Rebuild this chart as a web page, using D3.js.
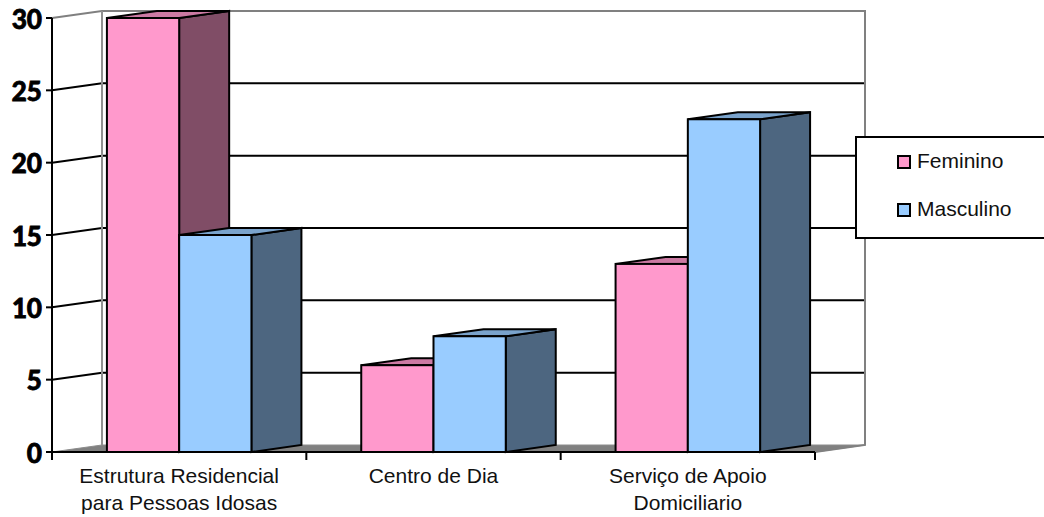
<!DOCTYPE html>
<html>
<head>
<meta charset="utf-8">
<script src="https://cdn.jsdelivr.net/npm/d3@7/dist/d3.min.js"></script>
<style>
  body { margin: 0; background: #fff; }
  svg { display: block; }
</style>
</head>
<body>
<div id="chart"></div>
<script>
// 3D clustered columns, Excel style: front plane + back wall offset by a fixed depth.
const categories = [
  ['Estrutura Residencial', 'para Pessoas Idosas'],
  ['Centro de Dia'],
  ['Serviço de Apoio', 'Domiciliario'],
];
const seriesNames = ['Feminino', 'Masculino'];
const feminino  = [30, 6, 13];
const masculino = [15, 8, 23];
const yTicks = [0, 5, 10, 15, 20, 25, 30];

const W = 1044, H = 517;
const DX = 50, DY = -7;           // depth offset of the back wall
const colors = {
  Feminino:  { front: '#FF99CC', side: '#804D66', top: '#CC7AA3' },
  Masculino: { front: '#99CCFF', side: '#4D6680', top: '#7AA3CC' },
};

const catKeys = categories.map((c) => c.join(' '));
const values = { Feminino: feminino, Masculino: masculino };

const x = d3.scaleBand().domain(catKeys).range([52, 815]).paddingInner(0).paddingOuter(0);
const xs = d3.scaleBand().domain(seriesNames).range([0, x.bandwidth()]).paddingInner(0).paddingOuter(0.76);
const y = d3.scaleLinear().domain([0, 30]).range([452, 18]);

const svg = d3.select('#chart').append('svg').attr('width', W).attr('height', H);

const x0 = x.range()[0], x1 = x.range()[1];
const yTop = y(30), yBase = y(0);
const pts = (a) => a.map((p) => p.join(',')).join(' ');

// floor
svg.append('polygon')
  .attr('points', pts([[x0, yBase], [x1, yBase], [x1 + DX, yBase + DY], [x0 + DX, yBase + DY]]))
  .attr('fill', '#808080').attr('stroke', '#8c8c8c').attr('stroke-width', 1);

// gridlines (left wall diagonal + back wall)
const grid = svg.append('g');
yTicks.filter((t) => t > 0 && t < 30).forEach((t) => {
  grid.append('polyline')
    .attr('points', pts([[x0, y(t)], [x0 + DX, y(t) + DY], [x1 + DX, y(t) + DY]]))
    .attr('fill', 'none').attr('stroke', '#000').attr('stroke-width', 2);
});

// walls outline (gray)
svg.append('polyline')
  .attr('points', pts([[x0, yTop], [x0 + DX, yTop + DY], [x1 + DX, yTop + DY], [x1 + DX, yBase + DY], [x1, yBase]]))
  .attr('fill', 'none').attr('stroke', '#808080').attr('stroke-width', 2);
svg.append('line')
  .attr('x1', x0 + DX).attr('x2', x0 + DX).attr('y1', yTop + DY).attr('y2', yBase + DY)
  .attr('stroke', '#909090').attr('stroke-width', 2);

// y axis
svg.append('line').attr('x1', x0).attr('x2', x0).attr('y1', yTop).attr('y2', yBase)
  .attr('stroke', '#000').attr('stroke-width', 2);
const yAx = svg.append('g');
yTicks.forEach((t) => {
  yAx.append('line').attr('x1', x0 - 6).attr('x2', x0).attr('y1', y(t)).attr('y2', y(t))
    .attr('stroke', '#000').attr('stroke-width', 2);
  yAx.append('text').attr('x', 42).attr('y', y(t)).attr('dy', '0.36em')
    .attr('text-anchor', 'end')
    .attr('stroke', '#000').attr('stroke-width', 0.8)
    .style('font-family', 'Carlito, Lato, sans-serif').style('font-weight', 'bold').style('font-size', '30px')
    .text(t);
});

// x axis
svg.append('line').attr('x1', x0).attr('x2', x1).attr('y1', yBase).attr('y2', yBase)
  .attr('stroke', '#000').attr('stroke-width', 2);
[x0].concat(catKeys.map((k) => x(k) + x.bandwidth())).forEach((tx) => {
  svg.append('line').attr('x1', tx).attr('x2', tx).attr('y1', yBase).attr('y2', yBase + 8)
    .attr('stroke', '#000').attr('stroke-width', 2);
});
categories.forEach((lines, i) => {
  const t = svg.append('text')
    .attr('x', x(catKeys[i]) + x.bandwidth() / 2).attr('y', 483)
    .attr('text-anchor', 'middle')
    .style('font-family', '"Liberation Sans", Arial, sans-serif').style('font-size', '21px')
    .attr('fill', '#111');
  lines.forEach((l, j) => t.append('tspan').attr('x', x(catKeys[i]) + x.bandwidth() / 2).attr('dy', j ? 27 : 0).text(l));
});

// bars
const bars = svg.append('g');
catKeys.forEach((k, i) => {
  seriesNames.forEach((s) => {
    const v = values[s][i];
    const bx0 = x(k) + xs(s), bx1 = bx0 + xs.bandwidth();
    const yt = y(v);
    const c = colors[s];
    const g = bars.append('g').attr('stroke', '#000').attr('stroke-width', 2).attr('stroke-linejoin', 'miter');
    g.append('polygon').attr('fill', c.side)
      .attr('points', pts([[bx1, yt], [bx1 + DX, yt + DY], [bx1 + DX, yBase + DY], [bx1, yBase]]));
    g.append('polygon').attr('fill', c.top)
      .attr('points', pts([[bx0, yt], [bx1, yt], [bx1 + DX, yt + DY], [bx0 + DX, yt + DY]]));
    g.append('rect').attr('fill', c.front)
      .attr('x', bx0).attr('y', yt).attr('width', bx1 - bx0).attr('height', yBase - yt);
  });
});

// legend
const lg = svg.append('g');
lg.append('rect').attr('x', 856).attr('y', 137).attr('width', 200).attr('height', 101)
  .attr('fill', '#fff').attr('stroke', '#000').attr('stroke-width', 2);
seriesNames.forEach((s, i) => {
  const ly = 156 + i * 48;
  lg.append('rect').attr('x', 898).attr('y', ly).attr('width', 12).attr('height', 12)
    .attr('fill', colors[s].front).attr('stroke', '#000').attr('stroke-width', 2);
  lg.append('text').attr('x', 917).attr('y', ly + 12)
    .style('font-family', '"Liberation Sans", Arial, sans-serif').style('font-size', '21px')
    .attr('fill', '#111').text(s);
});
</script>
</body>
</html>
